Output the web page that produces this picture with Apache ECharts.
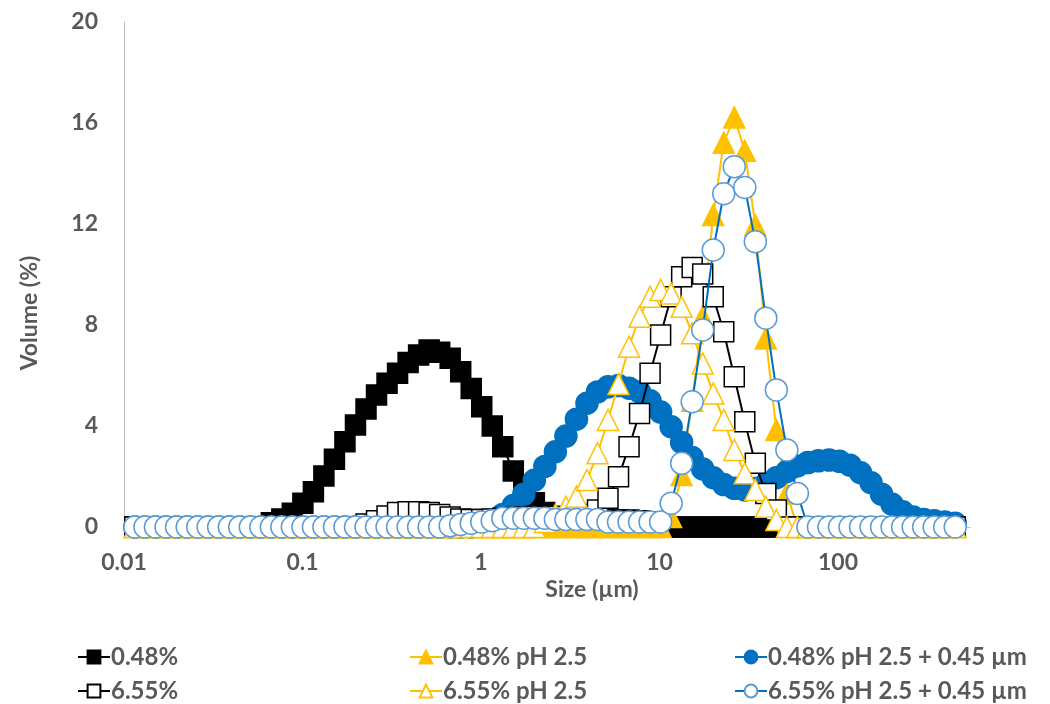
<!DOCTYPE html>
<html>
<head>
<meta charset="utf-8">
<script src="https://cdn.jsdelivr.net/npm/echarts@6/dist/echarts.min.js"></script>
<style>
html,body{margin:0;padding:0;background:#fff;}
#chart{width:1050px;height:704px;}
</style>
</head>
<body>
<div id="chart"></div>
<script>
// Size classes (µm)
const sizes = [0.0115,0.0131,0.0150,0.0172,0.0197,0.0226,0.0259,0.0296,0.0339,0.0389,
0.0445,0.0510,0.0584,0.0669,0.0766,0.0877,0.1005,0.1151,0.1318,0.1510,
0.1729,0.1981,0.2269,0.2599,0.2976,0.3409,0.3905,0.4472,0.5122,0.5867,
0.6720,0.7697,0.8816,1.0097,1.1565,1.3246,1.5172,1.7377,1.9904,2.2797,
2.6111,2.9907,3.4255,3.9234,4.4938,5.1471,5.8953,6.7523,7.7339,8.8583,
10.146,11.621,13.310,15.245,17.462,20.000,22.908,26.238,30.052,34.421,
39.424,45.156,51.720,59.239,67.850,77.714,89.012,101.95,116.77,133.75,
153.19,175.46,200.97,230.18,263.65,301.97,345.87,396.15,453.74];

const v048 = [0,0,0,0,0,0,0,0,0,0,0,0,0,
0.17,0.32,0.54,0.94,1.40,2.02,2.68,3.38,4.04,4.67,5.23,5.69,6.09,6.51,6.81,7.01,6.92,6.68,6.15,5.49,4.76,4.00,3.18,2.22,1.47,0.96,0.57,0.40,0.32,0.30,0.28,0.28,0.28,0.28,0.28,0.25,0.20,
0,0,0,0,0,0,0,0,0,0,0,0,0,0,0,0,0,0,0,0,0,0,0,0,0,0,0,0,0];

const v655 = [0,0,0,0,0,0,0,0,0,0,0,0,0,0,0,0,0,0,0,0,0,0,
0.12,0.25,0.44,0.57,0.6,0.6,0.57,0.5,0.4,0.32,0.3,0.3,0.32,0.35,0.38,0.4,0.42,0.42,0.42,0.42,0.45,0.5,0.67,1.14,1.99,3.18,4.50,6.09,7.60,9.12,9.91,10.28,10.02,9.12,7.73,5.95,4.17,2.52,1.33,0.67,
0,0,0,0,0,0,0,0,0,0,0,0,0,0,0,0,0];

const v048pH = [0,0,0,0,0,0,0,0,0,0,0,0,0,0,0,0,0,0,0,0,0,0,0,0,0,0,0,0,0,0,0,0,0,0,0,0,0,0,0,0,0,0,0,0,0,0,0,0,0,0,0,
0.4,2.06,5.0,8.33,12.36,15.22,16.22,14.90,11.96,7.47,3.84,1.33,
0,0,0,0,0,0,0,0,0,0,0,0,0,0,0,0];

const v655pH = [0,0,0,0,0,0,0,0,0,0,0,0,0,0,0,0,0,0,0,0,0,0,0,0,0,0,0,0,0,0,0,0,0,0,0,0,0,0,0,
0.2,0.5,0.8,1.2,1.86,2.92,4.24,5.66,7.14,8.33,9.12,9.39,9.25,8.72,7.67,6.48,5.29,4.24,3.05,2.13,1.47,0.8,0.28,
0,0,0,0,0,0,0,0,0,0,0,0,0,0,0,0,0];

const v048pHf = [0,0,0,0,0,0,0,0,0,0,0,0,0,0,0,0,0,0,0,0,0,0,0,0,0,0,0,0,0,0,0,0,0,
0.1,0.25,0.5,0.85,1.3,1.85,2.4,2.98,3.6,4.27,4.9,5.35,5.55,5.6,5.5,5.35,5.0,4.55,3.97,3.35,2.75,2.3,1.95,1.68,1.53,1.47,1.52,1.7,1.95,2.2,2.42,2.55,2.62,2.65,2.6,2.45,2.15,1.75,1.3,0.9,0.6,0.4,0.3,0.25,0.2,0.15];

const v655pHf = [0,0,0,0,0,0,0,0,0,0,0,0,0,0,0,0,0,0,0,0,0,0,0,0,0,0,0,0,0,0,
0.05,0.1,0.15,0.2,0.25,0.35,0.35,0.35,0.35,0.35,0.3,0.3,0.3,0.3,0.3,0.2,0.2,0.2,0.2,0.2,0.2,0.94,2.52,4.96,7.8,10.97,13.2,14.27,13.45,11.3,8.27,5.43,3.05,1.33,
0,0,0,0,0,0,0,0,0,0,0,0,0,0,0];

const xTickLabels = ['0.01','0.1','1','10','100'];
const yTickLabels = ['0','4','8','12','16','20'];

const names = ['0.48%','0.48% pH 2.5','0.48% pH 2.5 + 0.45 µm','6.55%','6.55% pH 2.5','6.55% pH 2.5 + 0.45 µm'];

const FONT = 'Lato, "Liberation Sans", sans-serif';
const TXT = '#595959';
const ORANGE = '#FFC000';
const BLUE = '#0070C0';
const LBLUE = '#5B9BD5';

function pts(v){ return sizes.map((s,i)=>[s, v[i]]); }

function mk(name, vals, symbol, size, fill, border, line, z){
  return {
    name: name, type: 'line', data: pts(vals), z: z,
    symbol: symbol, symbolSize: size, showAllSymbol: true,
    lineStyle: {color: line, width: 2},
    itemStyle: {color: fill, borderColor: border, borderWidth: 1.5},
    emphasis: {disabled: true},
    animation: false, clip: false
  };
}

const series = [
  mk(names[0], v048, 'rect', 20, '#000000', '#000000', '#000000', 2),
  mk(names[1], v048pH, 'triangle', 21, ORANGE, ORANGE, ORANGE, 3),
  mk(names[2], v048pHf, 'circle', 22, BLUE, BLUE, BLUE, 4),
  mk(names[3], v655, 'rect', 20, '#FFFFFF', '#000000', '#000000', 5),
  mk(names[4], v655pH, 'triangle', 21, '#FFFFFF', ORANGE, ORANGE, 6),
  mk(names[5], v655pHf, 'circle', 22, '#FFFFFF', LBLUE, BLUE, 7)
];

function lg(name, left, top){
  return {
    data: [name], left: left, top: top, padding: 0,
    orient: 'horizontal', itemWidth: 32, itemHeight: 16,
    textStyle: {fontFamily: FONT, fontWeight: 'bold', fontSize: 24, color: TXT, padding: [0,0,0,-4]},
    selectedMode: false
  };
}
const colX = [77, 409, 734];
const rowY = [645, 679];

const chart = echarts.init(document.getElementById('chart'), null, {renderer: 'canvas'});
chart.setOption({
  animation: false,
  backgroundColor: '#ffffff',
  grid: {left: 124, right: 80, top: 22, bottom: 177, containLabel: false},
  xAxis: {
    type: 'log', logBase: 10, min: 0.01, max: 549,
    axisLine: {show: true, lineStyle: {color: '#BFBFBF', width: 1}},
    axisTick: {show: false}, splitLine: {show: false}, minorTick: {show: false},
    axisLabel: {
      show: true, margin: 24, showMaxLabel: false,
      fontFamily: FONT, fontWeight: 'bold', fontSize: 23, color: TXT,
      formatter: function(v){
        const k = Math.round(Math.log10(v)) + 2;
        if (Math.abs(Math.log10(v) - (k - 2)) > 1e-6) return '';
        return xTickLabels[k] !== undefined ? xTickLabels[k] : '';
      }
    }
  },
  yAxis: {
    type: 'value', min: 0, max: 20, interval: 4,
    axisLine: {show: true, lineStyle: {color: '#BFBFBF', width: 1}},
    axisTick: {show: false}, splitLine: {show: false},
    axisLabel: {
      margin: 26, fontFamily: FONT, fontWeight: 'bold', fontSize: 23, color: TXT,
      formatter: function(v){ return yTickLabels[Math.round(v/4)]; }
    }
  },
  legend: [
    lg(names[0], colX[0], rowY[0]),
    lg(names[3], colX[0], rowY[1]),
    lg(names[1], colX[1], rowY[0]),
    lg(names[4], colX[1], rowY[1]),
    lg(names[2], colX[2], rowY[0]),
    lg(names[5], colX[2], rowY[1])
  ],
  graphic: [
    {type: 'text', x: 30, y: 313, rotation: Math.PI/2,
     style: {text: 'Volume (%)', textAlign: 'center', textVerticalAlign: 'middle',
       font: 'bold 23px ' + FONT, fill: TXT}},
    {type: 'text', x: 592, y: 590,
     style: {text: 'Size (µm)', textAlign: 'center', textVerticalAlign: 'middle',
       font: 'bold 23px ' + FONT, fill: TXT}}
  ],
  series: series
});
</script>
</body>
</html>
